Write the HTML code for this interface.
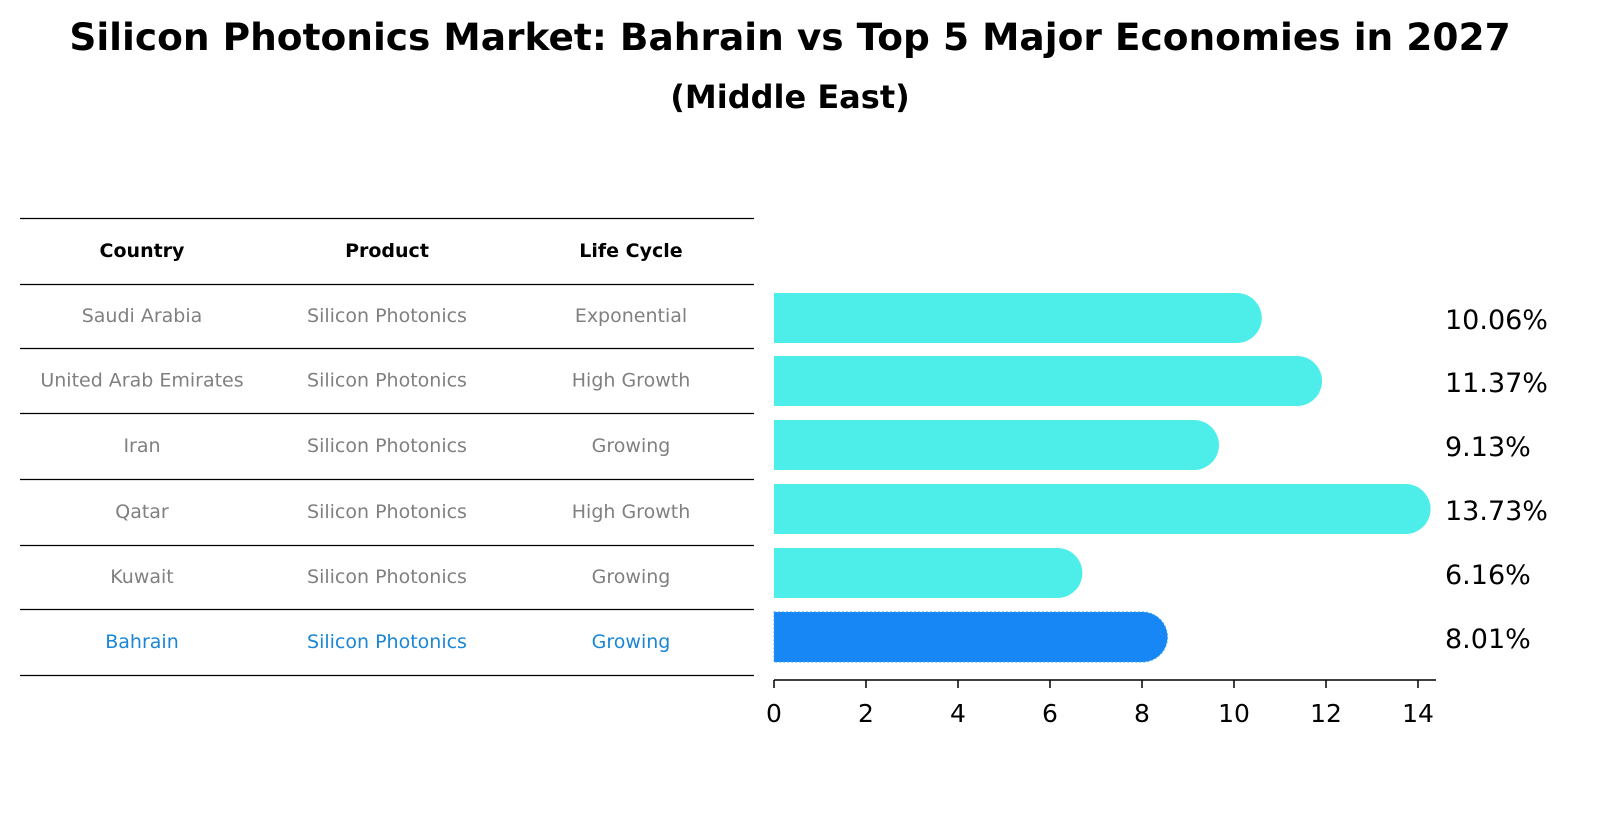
<!DOCTYPE html>
<html><head><meta charset="utf-8"><style>
body{margin:0;background:#fff;font-family:"Liberation Sans","DejaVu Sans",sans-serif}
</style></head><body>
<svg id="chart" width="1604" height="823" xmlns="http://www.w3.org/2000/svg" font-family="DejaVu Sans, Liberation Sans, sans-serif">
<text x="790" y="50" text-anchor="middle" font-size="37.5" font-weight="bold">Silicon Photonics Market: Bahrain vs Top 5 Major Economies in 2027</text>
<text x="790" y="108" text-anchor="middle" font-size="32" font-weight="bold">(Middle East)</text>
<g id="table"></g>
<g id="bars"></g>
</svg>
<script>
const countries=["Saudi Arabia","United Arab Emirates","Iran","Qatar","Kuwait","Bahrain"];
const products=["Silicon Photonics","Silicon Photonics","Silicon Photonics","Silicon Photonics","Silicon Photonics","Silicon Photonics"];
const lifeCycles=["Exponential","High Growth","Growing","High Growth","Growing","Growing"];
const values=[10.06,11.37,9.13,13.73,6.16,8.01];
const xTicks=[0,2,4,6,8,10,12,14];
const NS="http://www.w3.org/2000/svg";
function mk(tag,attrs,parent,txt){const e=document.createElementNS(NS,tag);for(const k in attrs)e.setAttribute(k,attrs[k]);if(txt!==undefined)e.textContent=txt;parent.appendChild(e);return e;}
const tbl=document.getElementById('table');
const lineYs=[218,284,348,413,479,545,609,675];
lineYs.forEach((y,i)=>{const l=mk('line',{x1:20,x2:754,y1:y+0.5,y2:y+0.5,stroke:'#000','stroke-width':1.2},tbl);

});
const colX=[142,387,631];
["Country","Product","Life Cycle"].forEach((h,i)=>{const t=mk('text',{x:colX[i],y:257,'text-anchor':'middle','font-size':19,'font-weight':'bold'},tbl,h);

});
const rowY=i=>(lineYs[i+1]+lineYs[i+2])/2+6;
countries.forEach((c,i)=>{const col=c==="Bahrain"?"#1a86d6":"#808080";
[c,products[i],lifeCycles[i]].forEach((v,j)=>{const t=mk('text',{x:colX[j],y:rowY(i),'text-anchor':'middle','font-size':19,fill:col},tbl,v);

});});
const g=document.getElementById('bars');
const x0=774,pxPer=46,xs=v=>x0+v*pxPer;
const centers=[318,381,445,509,573,637],bh=50,r=25;
values.forEach((v,i)=>{const isB=countries[i]==="Bahrain";const col=isB?"#1787f5":"#4deeea";
const x1=xs(v),cy=centers[i];
const p=mk('path',{d:`M${x0},${cy-bh/2} H${x1} A${r},${r} 0 0 1 ${x1},${cy+bh/2} H${x0} Z`,fill:col},g);
if(isB){p.setAttribute('stroke','#3aa0f5');p.setAttribute('stroke-dasharray','2,2');}


const t=mk('text',{x:1445,y:cy+11,'font-size':27},g,v.toFixed(2)+'%');

});
const ax=mk('line',{x1:x0,x2:1436,y1:680,y2:680,stroke:'#000','stroke-width':1.5},g);


xTicks.forEach(t=>{const l=mk('line',{x1:xs(t),x2:xs(t),y1:680,y2:688,stroke:'#000','stroke-width':1.5},g);


const tx=mk('text',{x:xs(t),y:722,'text-anchor':'middle','font-size':25},g,String(t));

});
</script>
</body></html>
